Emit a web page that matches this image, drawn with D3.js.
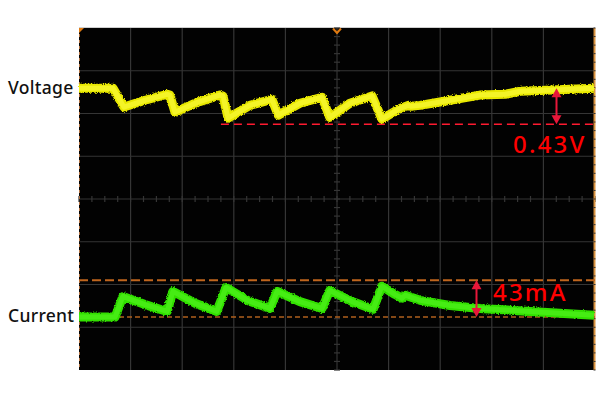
<!DOCTYPE html>
<html><head><meta charset="utf-8">
<script src="https://cdn.jsdelivr.net/npm/d3@7"></script>
<style>body{margin:0;background:#fff}svg{display:block}</style>
</head><body>
<svg id="c" width="600" height="400"></svg>
<script>
// time in divisions (0..10), amplitude in divisions (-4..4, 0 = screen centre)
const voltageT = [0,0.66,0.87,1.28,1.71,1.76,1.86,2.29,2.73,2.79,2.89,3.31,3.74,3.86,4.28,4.71,4.86,5.25,5.68,5.87,6.22,6.38,6.43,6.61,7.19,7.77,8.26,8.55,8.93,9.98];
const voltageV = [2.59,2.59,2.15,2.31,2.45,2.43,2.03,2.26,2.43,2.41,1.89,2.19,2.33,1.96,2.24,2.38,1.91,2.24,2.41,1.87,2.12,2.19,2.17,2.19,2.31,2.43,2.45,2.52,2.54,2.59];
const currentT = [0,0.70,0.85,1.28,1.71,1.82,2.25,2.67,2.85,3.28,3.70,3.84,4.28,4.71,4.86,5.29,5.70,5.87,6.12,6.26,6.32,6.61,7.19,7.77,8.74,9.98];
const currentV = [-2.76,-2.76,-2.28,-2.47,-2.63,-2.16,-2.44,-2.63,-2.07,-2.38,-2.56,-2.16,-2.40,-2.56,-2.14,-2.40,-2.58,-2.04,-2.23,-2.32,-2.25,-2.37,-2.49,-2.56,-2.63,-2.72];
const voltageBase = 1.75;   // red dashed reference level
const voltageTop = 2.59;
const currentHigh = -1.9;   // upper orange cursor
const currentLow = -2.76;   // lower orange cursor
const labels = {voltage:"Voltage", current:"Current", dv:"0.43V", di:"43mA"};

const svg = d3.select("#c");
const x = d3.scaleLinear().domain([0,10]).range([79,595]);
const y = d3.scaleLinear().domain([-4,4]).range([370,28]);

const defs = svg.append("defs");
const f = defs.append("filter").attr("id","fuzz").attr("x","-5%").attr("y","-30%").attr("width","110%").attr("height","160%");
f.append("feTurbulence").attr("type","fractalNoise").attr("baseFrequency","0.9").attr("numOctaves",2).attr("seed",3).attr("result","n");
f.append("feDisplacementMap").attr("in","SourceGraphic").attr("in2","n").attr("scale",3).attr("xChannelSelector","R").attr("yChannelSelector","G");

// screen
svg.append("rect").attr("x",x(0)).attr("y",y(4)).attr("width",x(10)-x(0)).attr("height",y(-4)-y(4)).attr("fill","#020202");
svg.append("line").attr("x1",x(0)).attr("x2",x(10)).attr("y1",y(4)-0.5).attr("y2",y(4)-0.5).attr("stroke","#cfcfcf");

const grid = svg.append("g").attr("stroke","#353535").attr("stroke-width",1.2);
d3.range(1,10).forEach(i=>grid.append("line").attr("x1",x(i)).attr("x2",x(i)).attr("y1",y(4)).attr("y2",y(-4)));
d3.range(-3,4).forEach(i=>grid.append("line").attr("x1",x(0)).attr("x2",x(10)).attr("y1",y(i)).attr("y2",y(i)));
// minor ticks on centre axes
d3.range(-4,4.01,0.2).forEach(v=>grid.append("line").attr("x1",x(5)-3).attr("x2",x(5)+3).attr("y1",y(v)).attr("y2",y(v)));
d3.range(0,10.01,0.25).forEach(t=>grid.append("line").attr("x1",x(t)).attr("x2",x(t)).attr("y1",y(0)-3).attr("y2",y(0)+3));

// edges
svg.append("line").attr("x1",x(0)+0.5).attr("x2",x(0)+0.5).attr("y1",y(4)).attr("y2",y(-4)).attr("stroke","#b07040").attr("stroke-dasharray","3,3").attr("stroke-width",1);
svg.append("path").attr("d",`M${x(0)},${y(4)}h5l-5,5z`).attr("fill","#e07a10");
svg.append("rect").attr("x",x(10)-1.5).attr("y",y(4)).attr("width",2).attr("height",y(-4)-y(4)).attr("fill","#d8913f");
d3.range(-4,4.01,0.2).forEach(v=>svg.append("line").attr("x1",x(10)-1.5).attr("x2",x(10)+0.5).attr("y1",y(v)).attr("y2",y(v)).attr("stroke","#333"));
svg.append("path").attr("d",`M${x(5)-4},${y(4)+0.5}L${x(5)},${y(4)+5}L${x(5)+4},${y(4)+0.5}`).attr("fill","none").attr("stroke","#e07a10").attr("stroke-width",2);

// cursors
svg.append("line").attr("x1",x(2.75)).attr("x2",x(10)).attr("y1",y(voltageBase)).attr("y2",y(voltageBase)).attr("stroke","#ff1a30").attr("stroke-width",1.6).attr("stroke-dasharray","8,5");
svg.append("line").attr("x1",x(0)).attr("x2",x(10)).attr("y1",y(currentHigh)).attr("y2",y(currentHigh)).attr("stroke","#c0661e").attr("stroke-width",1.8).attr("stroke-dasharray","9,4");
svg.append("line").attr("x1",x(0)).attr("x2",x(10)).attr("y1",y(currentLow)).attr("y2",y(currentLow)).attr("stroke","#b0601e").attr("stroke-width",1.3).attr("stroke-dasharray","5,3");

// traces
const line = d3.line().curve(d3.curveLinear);
const vPts = voltageT.map((t,i)=>[x(t),y(voltageV[i])]);
const cPts = currentT.map((t,i)=>[x(t),y(currentV[i])]);
svg.append("path").attr("d",line(vPts)).attr("fill","none").attr("stroke","#e8e800").attr("stroke-width",9).attr("stroke-linejoin","round").attr("filter","url(#fuzz)");
svg.append("path").attr("d",line(vPts)).attr("fill","none").attr("stroke","#f4f428").attr("stroke-width",5).attr("stroke-linejoin","round");
svg.append("path").attr("d",line(cPts)).attr("fill","none").attr("stroke","#30e000").attr("stroke-width",9).attr("stroke-linejoin","round").attr("filter","url(#fuzz)");
svg.append("path").attr("d",line(cPts)).attr("fill","none").attr("stroke","#46ec14").attr("stroke-width",5).attr("stroke-linejoin","round");

// arrows
function arrow(xp, y1, y2){
  const g = svg.append("g").attr("fill","#e8173a").attr("stroke","#e8173a");
  g.append("line").attr("x1",xp).attr("x2",xp).attr("y1",y1+6).attr("y2",y2-6).attr("stroke-width",2);
  g.append("path").attr("d",`M${xp},${y1}l-5,9h10z`).attr("stroke","none");
  g.append("path").attr("d",`M${xp},${y2}l-5,-9h10z`).attr("stroke","none");
}
arrow(556.5, y(voltageTop), y(voltageBase));
arrow(476.5, y(currentHigh), y(currentLow));

svg.append("text").attr("x",513).attr("y",153).text(labels.dv).attr("fill","#ff0000").attr("font-family","Noto Sans").attr("font-size",24).attr("font-weight",500).attr("letter-spacing",2.2);
svg.append("text").attr("x",493).attr("y",301).text(labels.di).attr("fill","#ff0000").attr("font-family","Noto Sans").attr("font-size",24).attr("font-weight",500).attr("letter-spacing",2.2);
svg.append("text").attr("x",8).attr("y",93.5).text(labels.voltage).attr("fill","#111").attr("font-family","Noto Sans").attr("font-size",17.5).attr("font-weight",500).attr("letter-spacing",0.3);
svg.append("text").attr("x",8).attr("y",322).text(labels.current).attr("fill","#111").attr("font-family","Noto Sans").attr("font-size",17.5).attr("font-weight",500).attr("letter-spacing",0.3);
</script>
</body></html>
